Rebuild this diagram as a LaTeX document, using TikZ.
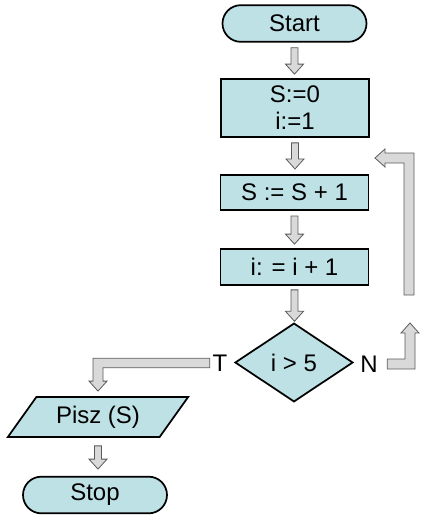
\documentclass[tikz,border=0pt]{standalone}
\usepackage{fontspec}
\setmainfont{Liberation Sans}
\usetikzlibrary{shapes.geometric,shapes.misc,calc}
\definecolor{boxblue}{RGB}{190,225,230}
\definecolor{arrowgray}{RGB}{217,217,217}
\definecolor{arrowline}{RGB}{90,90,90}
\tikzset{
  every node/.style={font=\fontsize{18}{20.25}\selectfont},
  flowbox/.style={draw,line width=1.3pt,fill=boxblue,inner sep=0pt},
  startstop/.style={flowbox,rounded rectangle,minimum width=108pt,minimum height=27.5pt},
  process/.style={flowbox,rectangle,minimum width=111pt},
  decision/.style={flowbox,diamond,minimum width=88.5pt,minimum height=59pt},
  iobox/.style={flowbox,trapezium,trapezium left angle=49,trapezium right angle=131,
    trapezium stretches=true,minimum width=136pt,minimum height=30pt},
  label/.style={inner sep=2pt},
  blockarrow/.style={fill=arrowgray,draw=arrowline,line width=0.6pt,line join=miter}
}
\newcommand{\downarr}[2]{%
  \filldraw[blockarrow] let \p1=(#1), \p2=(#2) in
    (\x1-2.6pt,\y1) -- (\x1+2.6pt,\y1) -- (\x1+2.6pt,\y2+7.5pt) -- (\x1+6.75pt,\y2+7.5pt)
    -- (\x1,\y2) -- (\x1-6.75pt,\y2+7.5pt) -- (\x1-2.6pt,\y2+7.5pt) -- cycle;}
\newcommand{\ldarr}[2]{%
  \filldraw[blockarrow] let \p1=(#1), \p2=(#2) in
    (\x1,\y1+3.5pt) -- (\x2-3.75pt,\y1+3.5pt) -- (\x2-3.75pt,\y2+7.5pt) -- (\x2-6.75pt,\y2+7.5pt)
    -- (\x2,\y2) -- (\x2+6.75pt,\y2+7.5pt) -- (\x2+3.75pt,\y2+7.5pt) -- (\x2+3.75pt,\y1-3.5pt)
    -- (\x1,\y1-3.5pt) -- cycle;}
\newcommand{\ruarr}[2]{%
  \filldraw[blockarrow] let \p1=(#1), \p2=(#2) in
    (\x1,\y1+3.75pt) -- (\x2-3.75pt,\y1+3.75pt) -- (\x2-3.75pt,\y2-7.5pt) -- (\x2-6.75pt,\y2-7.5pt)
    -- (\x2,\y2) -- (\x2+6.75pt,\y2-7.5pt) -- (\x2+3.75pt,\y2-7.5pt) -- (\x2+3.75pt,\y1-3.75pt)
    -- (\x1,\y1-3.75pt) -- cycle;}
\newcommand{\ularr}[2]{%
  \filldraw[blockarrow] let \p1=(#1), \p2=(#2) in
    (\x1-3.75pt,\y1) -- (\x1-3.75pt,\y2-3.75pt) -- (\x2+7.5pt,\y2-3.75pt) -- (\x2+7.5pt,\y2-6.75pt)
    -- (\x2,\y2) -- (\x2+7.5pt,\y2+6.75pt) -- (\x2+7.5pt,\y2+3.75pt) -- (\x1+3.75pt,\y2+3.75pt)
    -- (\x1+3.75pt,\y1) -- cycle;}
\begin{document}
\begin{tikzpicture}[x=0.75pt,y=-0.75pt]
\useasboundingbox (0,0) rectangle (425,518);

\node[startstop] (start) at (294.5,23.5) {Start};
\node[process,minimum height=43.5pt,align=center] (init) at (295,108) {S:=0\\i:=1};
\node[process,minimum height=26.5pt] (incs) at (294.5,192.5) {S := S + 1};
\node[process,minimum height=27pt] (inci) at (294.5,267) {i: = i + 1};
\node[decision] (cond) at (294,362.5) {i > 5};
\node[label] (yes) at (220,363) {T};
\node[label] (no) at (369,364) {N};
\node[iobox] (print) at (98,417) {Pisz (S)};
\node[startstop] (stop) at (95,495) {Stop};

\coordinate (loopfoot) at (409,295);
\coordinate (looptip) at (375,158);
\coordinate (notip) at (410,323);

\downarr{[yshift=-3.75pt]start.south}{[yshift=3pt]init.north}
\downarr{[yshift=-3.75pt]init.south}{[yshift=3.75pt]incs.north}
\downarr{[yshift=-3.75pt]incs.south}{[yshift=3pt]inci.north}
\downarr{[yshift=-3pt]inci.south}{[yshift=0.75pt]cond.north}
\downarr{[yshift=-6pt]print.south}{[yshift=5pt]stop.north}

\ldarr{yes.west}{[yshift=3.75pt]print.north}
\ruarr{[xshift=5pt]no.east}{notip}
\ularr{loopfoot}{looptip}
\end{tikzpicture}
\end{document}
